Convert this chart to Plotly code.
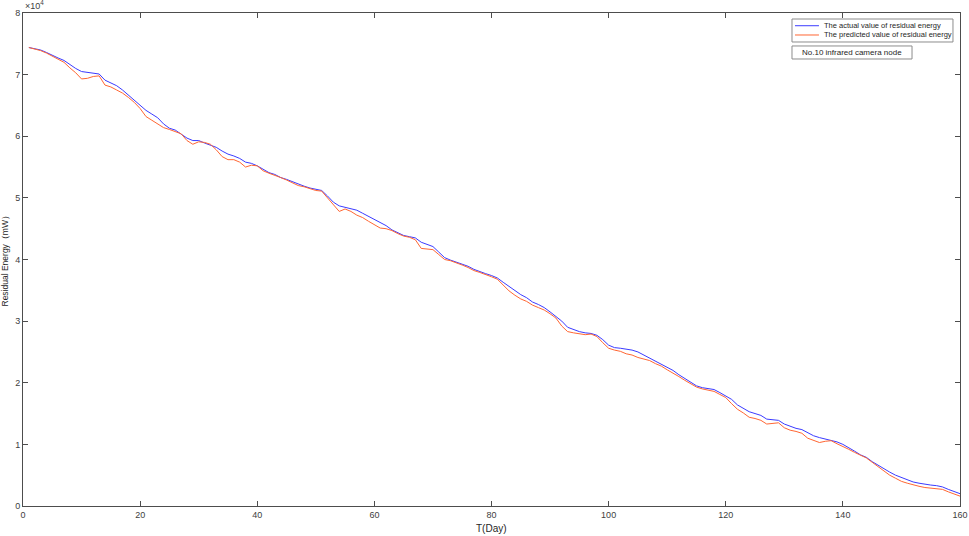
import numpy as np
import plotly.graph_objects as go

days = list(range(1, 161))

actual = [7.44, 7.42, 7.40, 7.36, 7.31, 7.27, 7.23, 7.16, 7.10, 7.05,
          7.04, 7.03, 7.01, 6.91, 6.87, 6.82, 6.75, 6.67, 6.58, 6.50,
          6.42, 6.36, 6.30, 6.20, 6.13, 6.10, 6.04, 5.97, 5.93, 5.93,
          5.89, 5.85, 5.82, 5.76, 5.71, 5.68, 5.64, 5.58, 5.56, 5.52,
          5.46, 5.41, 5.38, 5.33, 5.30, 5.26, 5.22, 5.19, 5.16, 5.14,
          5.12, 5.03, 4.93, 4.87, 4.85, 4.83, 4.80, 4.75, 4.70, 4.65,
          4.61, 4.55, 4.48, 4.44, 4.39, 4.37, 4.35, 4.28, 4.25, 4.21,
          4.12, 4.03, 3.99, 3.96, 3.93, 3.89, 3.84, 3.80, 3.77, 3.74,
          3.70, 3.63, 3.56, 3.50, 3.43, 3.38, 3.31, 3.27, 3.22, 3.15,
          3.08, 3.00, 2.90, 2.86, 2.83, 2.81, 2.80, 2.77, 2.70, 2.61,
          2.57, 2.56, 2.55, 2.53, 2.50, 2.45, 2.41, 2.36, 2.31, 2.25,
          2.20, 2.13, 2.07, 2.00, 1.95, 1.92, 1.91, 1.89, 1.84, 1.79,
          1.73, 1.64, 1.59, 1.53, 1.50, 1.47, 1.41, 1.40, 1.39, 1.33,
          1.29, 1.26, 1.24, 1.19, 1.14, 1.11, 1.09, 1.07, 1.04, 1.00,
          0.95, 0.89, 0.83, 0.79, 0.72, 0.66, 0.61, 0.55, 0.50, 0.46,
          0.42, 0.39, 0.37, 0.35, 0.34, 0.33, 0.31, 0.27, 0.23, 0.20]

predicted = [7.44, 7.42, 7.39, 7.35, 7.30, 7.25, 7.20, 7.11, 7.03, 6.93,
             6.94, 6.97, 6.98, 6.83, 6.80, 6.75, 6.70, 6.63, 6.55, 6.45,
             6.32, 6.26, 6.20, 6.14, 6.11, 6.08, 6.04, 5.93, 5.87, 5.91,
             5.90, 5.87, 5.78, 5.67, 5.62, 5.62, 5.58, 5.50, 5.53, 5.52,
             5.44, 5.40, 5.37, 5.33, 5.29, 5.25, 5.20, 5.18, 5.15, 5.12,
             5.11, 5.00, 4.88, 4.78, 4.82, 4.78, 4.72, 4.68, 4.62, 4.56,
             4.51, 4.50, 4.47, 4.42, 4.38, 4.36, 4.32, 4.18, 4.17, 4.16,
             4.08, 4.00, 3.98, 3.95, 3.91, 3.87, 3.82, 3.79, 3.76, 3.72,
             3.68, 3.58, 3.49, 3.42, 3.36, 3.32, 3.26, 3.22, 3.18, 3.12,
             3.05, 2.92, 2.83, 2.81, 2.79, 2.78, 2.79, 2.75, 2.65, 2.56,
             2.53, 2.51, 2.47, 2.45, 2.41, 2.39, 2.36, 2.31, 2.27, 2.21,
             2.16, 2.10, 2.04, 1.98, 1.93, 1.90, 1.88, 1.86, 1.81, 1.76,
             1.66, 1.57, 1.51, 1.44, 1.42, 1.39, 1.33, 1.34, 1.35, 1.27,
             1.23, 1.21, 1.18, 1.10, 1.06, 1.03, 1.05, 1.06, 1.01, 0.97,
             0.92, 0.87, 0.82, 0.78, 0.71, 0.64, 0.57, 0.50, 0.45, 0.40,
             0.37, 0.34, 0.32, 0.30, 0.29, 0.28, 0.27, 0.23, 0.19, 0.16]

series_names = ["The actual value of residual energy",
                "The predicted value of residual energy"]
series_colors = ["#3b3bff", "#ff6633"]
node_label = "No.10 infrared camera node"

x_ticks = [0, 20, 40, 60, 80, 100, 120, 140, 160]
y_tick_labels = ["0", "1", "2", "3", "4", "5", "6", "7", "8"]
scale = 1e4

y_actual = np.array(actual) * scale
y_pred = np.array(predicted) * scale
y_tickvals = [int(t) * scale for t in y_tick_labels]

axis_color = "#4d4d4d"
font_family = "Liberation Sans, Arial, sans-serif"
tick_font = dict(family=font_family, size=9, color="#404040")

fig = go.Figure()
fig.add_trace(go.Scatter(x=days, y=y_actual, mode="lines", name=series_names[0],
                         line=dict(color=series_colors[0], width=1)))
fig.add_trace(go.Scatter(x=days, y=y_pred, mode="lines", name=series_names[1],
                         line=dict(color=series_colors[1], width=1)))

fig.update_layout(
    width=969, height=536,
    margin=dict(l=23, r=9, t=13, b=30),
    paper_bgcolor="white", plot_bgcolor="white",
    font=dict(family=font_family, size=9, color="#404040"),
    showlegend=False,
)
fig.update_xaxes(range=[0, 160], tickvals=x_ticks, ticks="inside", ticklen=5,
                 tickcolor=axis_color, showline=True, linecolor=axis_color,
                 linewidth=1, mirror="ticks", showgrid=False, zeroline=False,
                 tickfont=tick_font, automargin=False)
fig.update_yaxes(range=[0, 8 * scale], tickvals=y_tickvals, ticktext=y_tick_labels,
                 ticks="inside", ticklen=5, tickcolor=axis_color, showline=True,
                 linecolor=axis_color, linewidth=1, mirror="ticks",
                 showgrid=False, zeroline=False, tickfont=tick_font,
                 automargin=False)

# axis titles
fig.add_annotation(text="T(Day)", xref="paper", yref="paper", x=0.5, y=0,
                   yshift=-15, showarrow=False, yanchor="top",
                   font=dict(size=10, color="#262626"))
fig.add_annotation(text="Residual Energy（mW）", xref="paper", yref="paper",
                   x=0, y=0.5, xshift=-12, textangle=-90, showarrow=False,
                   xanchor="right", font=dict(size=8.5, color="#262626"))
fig.add_annotation(text="×10<sup>4</sup>", xref="paper", yref="paper",
                   x=0, y=1, xanchor="left", yanchor="bottom", showarrow=False,
                   font=dict(size=9, color="#404040"))

# legend box drawn MATLAB-style
fig.add_shape(type="rect", xref="paper", yref="paper",
              x0=0.8207, x1=0.9925, y0=0.9412, y1=0.9878,
              line=dict(color="#8c8c8c", width=1), fillcolor="white", layer="above")
for name, color, yy in zip(series_names, series_colors, [0.9742, 0.9554]):
    fig.add_shape(type="line", xref="paper", yref="paper",
                  x0=0.8239, x1=0.8495, y0=yy, y1=yy,
                  line=dict(color=color, width=1), layer="above")
    fig.add_annotation(text=name, xref="paper", yref="paper", x=0.8527, y=yy,
                       xanchor="left", yanchor="middle", showarrow=False,
                       font=dict(size=7.5, color="#262626"))

# node text box
fig.add_shape(type="rect", xref="paper", yref="paper",
              x0=0.8207, x1=0.9488, y0=0.9067, y1=0.9331,
              line=dict(color="#8c8c8c", width=1), fillcolor="white", layer="above")
fig.add_annotation(text=node_label, xref="paper", yref="paper",
                   x=0.8847, y=0.9199, xanchor="center", yanchor="middle",
                   showarrow=False, font=dict(size=8, color="#262626"))

fig.write_html("out.html", config={"displayModeBar": False},
               post_script="document.body.style.margin='0';")
